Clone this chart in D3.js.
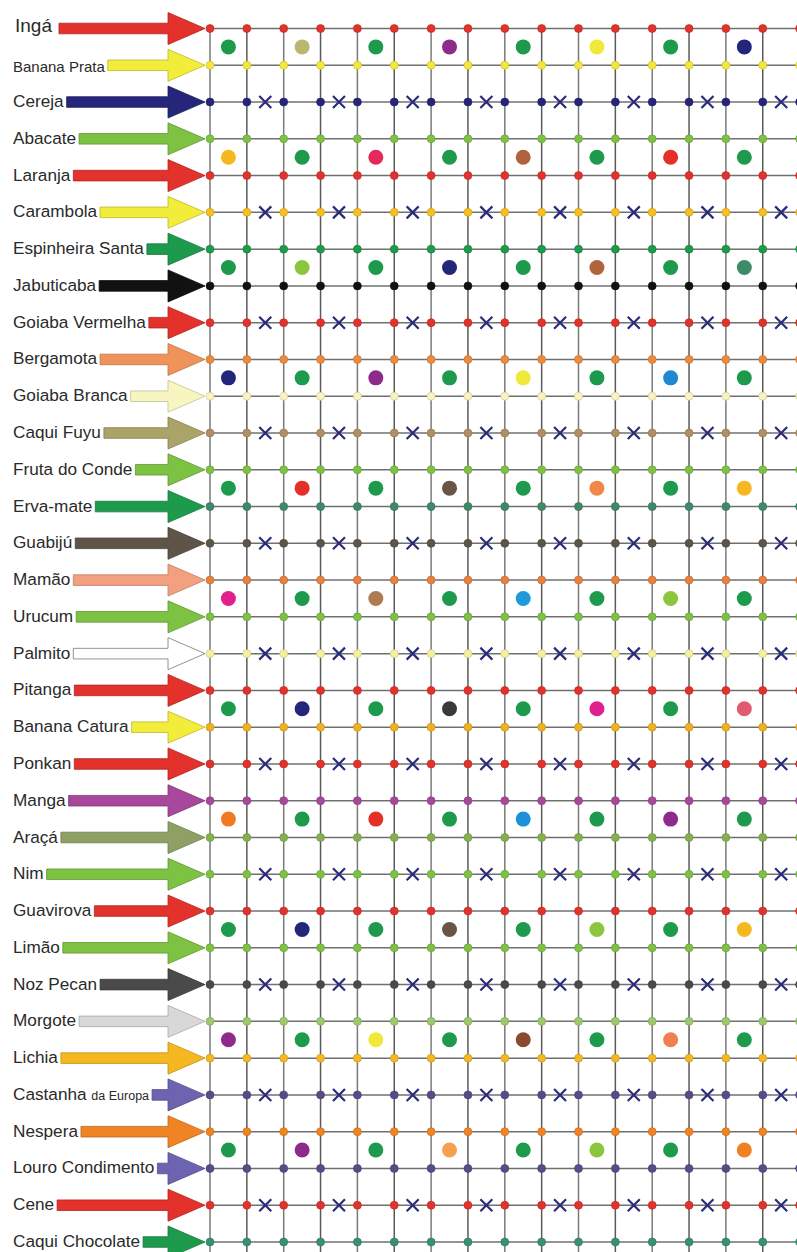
<!DOCTYPE html>
<html>
<head>
<meta charset="utf-8">
<script src="https://cdn.jsdelivr.net/npm/d3@7"></script>
<style>
  body { margin: 0; background: #fff; }
  svg { display: block; }
</style>
</head>
<body>
<svg width="797" height="1252"></svg>
<script>
var svg = d3.select('svg');

// species, top to bottom
var rows = ["Ingá", "Banana Prata", "Cereja", "Abacate", "Laranja", "Carambola",
    "Espinheira Santa", "Jabuticaba", "Goiaba Vermelha", "Bergamota", "Goiaba Branca",
    "Caqui Fuyu", "Fruta do Conde", "Erva-mate", "Guabijú", "Mamão", "Urucum", "Palmito",
    "Pitanga", "Banana Catura", "Ponkan", "Manga", "Araçá", "Nim", "Guavirova", "Limão",
    "Noz Pecan", "Morgote", "Lichia", "Castanha da Europa", "Nespera", "Louro Condimento",
    "Cene", "Caqui Chocolate"];

var arrowColors = ["#e3312b", "#f2ec3a", "#25267a", "#7dc242", "#e3312b", "#f2ec3a",
    "#1e9a4c", "#111111", "#e3312b", "#f0935a", "#f8f6c0",
    "#aaa468", "#7dc242", "#1e9a4c", "#5e5448", "#f2a080", "#7dc242", "#ffffff",
    "#e3312b", "#f2ec3a", "#e3312b", "#a8489c", "#8ea064", "#7dc242", "#e3312b", "#7dc242",
    "#4a4a4a", "#d8d8d8", "#f5b820", "#6c64b0", "#f08424", "#6c64b0",
    "#e3312b", "#1e9a4c"];

var dotColors = ["#e3312b", "#f2e83a", "#25267a", "#7dc242", "#e3312b", "#f5c020",
    "#1e9a4c", "#111111", "#e3312b", "#ee8a3c", "#f8f4c0",
    "#b09060", "#7dc242", "#3e8a68", "#5e5448", "#e88040", "#7dc242", "#f5f0a0",
    "#e3312b", "#f0b020", "#e3312b", "#a8489c", "#86b050", "#7dc242", "#e3312b", "#7dc242",
    "#4a4a4a", "#9cc870", "#f5b820", "#5a4a8a", "#f08424", "#5a4a8a",
    "#e3312b", "#3a9070"];

// big dots, one list per band (between rows 3b and 3b+1)
var bandColors = [
    ["#1e9a4c", "#b8b870", "#1e9a4c", "#8e2a8c", "#1e9a4c", "#f2e83a", "#1e9a4c", "#23267a"],
    ["#f6b820", "#1e9a4c", "#e42a5a", "#1e9a4c", "#b0643c", "#1e9a4c", "#e5302a", "#1e9a4c"],
    ["#1e9a4c", "#8cc63e", "#1e9a4c", "#23267a", "#1e9a4c", "#b0643c", "#1e9a4c", "#3f8a68"],
    ["#23267a", "#1e9a4c", "#8e2a8c", "#1e9a4c", "#f2e83a", "#1e9a4c", "#1e88d0", "#1e9a4c"],
    ["#1e9a4c", "#e5302a", "#1e9a4c", "#6a5444", "#1e9a4c", "#f0884a", "#1e9a4c", "#f6b820"],
    ["#e0208c", "#1e9a4c", "#b07a52", "#1e9a4c", "#1e9ad8", "#1e9a4c", "#8cc63e", "#1e9a4c"],
    ["#1e9a4c", "#23267a", "#1e9a4c", "#3a3a3c", "#1e9a4c", "#e0208c", "#1e9a4c", "#e25a70"],
    ["#f07a22", "#1e9a4c", "#e5302a", "#1e9a4c", "#1e90d8", "#1e9a4c", "#8e2a8c", "#1e9a4c"],
    ["#1e9a4c", "#23267a", "#1e9a4c", "#6a5444", "#1e9a4c", "#8cc63e", "#1e9a4c", "#f6b820"],
    ["#8e2a8c", "#1e9a4c", "#f2e83a", "#1e9a4c", "#8a4a30", "#1e9a4c", "#f08050", "#1e9a4c"],
    ["#1e9a4c", "#8e2a8c", "#1e9a4c", "#f5a050", "#1e9a4c", "#8cc63e", "#1e9a4c", "#f08020"]
];

var cols = d3.range(17);

var x = d3.scaleLinear().domain([0, 16]).range([210, 799.6]);
var y = d3.scalePoint().domain(rows).range([28.5, 1242]);

// grid
svg.append('g').selectAll('line')
    .data(rows)
    .enter()
    .append('line')
    .attr('x1', x(0)).attr('x2', 800)
    .attr('y1', function (d) { return y(d); })
    .attr('y2', function (d) { return y(d); })
    .attr('stroke', '#707070')
    .attr('stroke-width', 1.5);

svg.append('g').selectAll('line')
    .data(cols)
    .enter()
    .append('line')
    .attr('x1', function (d) { return x(d); })
    .attr('x2', function (d) { return x(d); })
    .attr('y1', y(rows[0])).attr('y2', 1252)
    .attr('stroke', function (d) { return d % 2 ? '#5a5a5a' : '#7a7a7a'; })
    .attr('stroke-width', 1.5);

// labels + arrows
var labels = svg.append('g');
rows.forEach(function (name, i) {
    var yy = y(name);
    var size = 17.2, dy = 5, gap = 3, lx = 13;
    if (i === 0) { size = 19; dy = 3; gap = 7; lx = 15; }
    if (i === 1) { size = 15; dy = 7; }

    var t = labels.append('text')
        .attr('x', lx)
        .attr('y', yy + dy)
        .attr('font-family', 'Liberation Sans, Arial, sans-serif')
        .attr('font-size', size)
        .attr('fill', '#2a2a2a');

    if (name.indexOf(' da Europa') > 0) {
        t.append('tspan').text('Castanha ');
        t.append('tspan').attr('font-size', 12.5).text('da Europa');
    } else {
        t.text(name);
    }

    var x0 = lx + t.node().getComputedTextLength() + gap;
    var c = arrowColors[i];
    var p = [[x0, yy - 5.3], [168, yy - 5.3], [168, yy - 16], [205, yy],
             [168, yy + 16], [168, yy + 5.3], [x0, yy + 5.3]];

    labels.append('path')
        .attr('d', d3.line()(p) + 'Z')
        .attr('fill', c)
        .attr('stroke', c === '#ffffff' ? '#777' : d3.color(c).darker(0.7))
        .attr('stroke-width', 0.8);
});

// small dots at every crossing
rows.forEach(function (name, i) {
    svg.append('g').selectAll('circle')
        .data(cols)
        .enter()
        .append('circle')
        .attr('cx', function (d) { return x(d); })
        .attr('cy', y(name))
        .attr('r', 4)
        .attr('fill', dotColors[i])
        .attr('stroke', d3.color(dotColors[i]).darker(0.6))
        .attr('stroke-width', 0.6);
});

// big dots in bands
bandColors.forEach(function (band, b) {
    var yy = (y(rows[3 * b]) + y(rows[3 * b + 1])) / 2;
    svg.append('g').selectAll('circle')
        .data(band)
        .enter()
        .append('circle')
        .attr('cx', function (d, k) { return x(2 * k + 0.5); })
        .attr('cy', yy)
        .attr('r', 7.5)
        .attr('fill', function (d) { return d; });
});

// crosses on every third row
rows.forEach(function (name, i) {
    if (i % 3 !== 2) return;
    var yy = y(name);
    svg.append('g').selectAll('path')
        .data(d3.range(8))
        .enter()
        .append('path')
        .attr('d', function (k) {
            var cx = x(2 * k + 1.5), s = 6;
            return 'M' + (cx - s) + ',' + (yy - s) + 'L' + (cx + s) + ',' + (yy + s) +
                'M' + (cx - s) + ',' + (yy + s) + 'L' + (cx + s) + ',' + (yy - s);
        })
        .attr('stroke', '#2b2b7b')
        .attr('stroke-width', 2.2)
        .attr('fill', 'none');
});
</script>
</body>
</html>
